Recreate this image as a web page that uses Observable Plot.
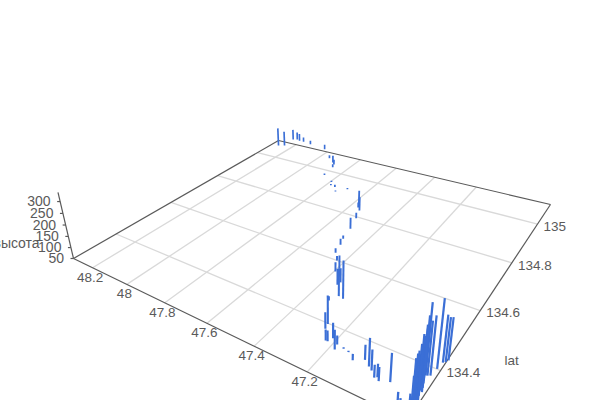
<!DOCTYPE html>
<html><head><meta charset="utf-8">
<script src="https://cdn.jsdelivr.net/npm/d3@7"></script>
<script src="https://cdn.jsdelivr.net/npm/@observablehq/plot@0.6"></script>
<style>body{margin:0;background:#fff}svg{display:block}</style></head><body><div id="c"></div>
<script>
// Values: horizontal position on each floor axis, and height
const lonValues=[48.278,48.249,48.256,48.236,48.214,48.187,48.135,48.031,47.947,47.904,47.887,47.875,47.863,47.794,47.778,47.753,47.727,47.691,47.569,
47.545,47.563,47.524,47.501,47.487,47.473,47.460,47.428,47.392,47.395,47.347,47.309,47.289,47.345,47.325,47.263,47.257,47.227,47.220,
47.213,47.182,47.187,47.161,47.141,47.113,47.083,47.060,47.046,47.026,47.019,47.009,46.980,46.929,46.923,46.902,46.908,46.896,46.891,
46.887,46.881,46.877,46.900,46.892,46.882,46.889,46.889,46.887,46.887,46.882,46.880,46.884,46.889,46.893,46.893,46.896,46.904,46.903,
46.895,46.888,46.885,46.890,46.900,46.896,46.900];
const latValues=[135.082,135.092,135.149,135.156,135.150,135.150,135.144,135.132,135.079,135.057,135.046,135.027,134.968,134.939,134.920,134.917,134.894,134.923,134.856,
134.833,134.846,134.793,134.739,134.689,134.662,134.626,134.600,134.574,134.560,134.520,134.487,134.484,134.531,134.463,134.398,134.383,134.355,134.355,
134.368,134.343,134.357,134.354,134.351,134.337,134.350,134.339,134.333,134.320,134.324,134.317,134.326,134.291,134.294,134.303,134.375,134.379,134.401,
134.421,134.425,134.432,134.350,134.325,134.303,134.301,134.300,134.293,134.293,134.295,134.304,134.302,134.300,134.298,134.325,134.337,134.362,134.376,
134.345,134.315,134.310,134.335,134.312,134.330,134.355];
const heightValues=[147,128,106,91,90,75,69,75,66,86,75,66,58,56,57,61,55,56,121,
113,74,76,101,65,77,70,69,107,90,117,162,203,109,67,161,115,92,92,
110,125,85,56,55,74,107,156,128,98,100,102,156,89,66,82,305,262,298,
223,213,207,262,263,261,229,201,177,143,249,246,207,190,156,225,242,277,245,
255,235,215,270,195,215,250];
const lonTicks=[48.2,48,47.8,47.6,47.4,47.2];
const latTicks=[134.4,134.6,134.8,135];
const heightTicks=[50,100,150,200,250,300];

// Extent of the 3D box
const uMax=48.32,uMin=46.88,vMin=134.266,vMax=135.117,zMin=50,zMax=338;
// Perspective camera
const a=198,b=317.2,c=73,d=21.7,e=-61.5,f=258,g=-0.3341,h=0.4036,q=-0.0571,vpx=329,vpy=1350;
function P(u,v,z=zMin){
  const s=(uMax-u)/(uMax-uMin),t=(v-vMin)/(vMax-vMin),w=(z-zMin)/(zMax-zMin);
  const D=g*s+h*t+1+q*w;
  return [(a*s+b*t+c+vpx*q*w)/D,(d*s+e*t+f+vpy*q*w)/D];
}
const bars=lonValues.map((u,i)=>[P(u,latValues[i]),P(u,latValues[i],heightValues[i])]);
const lnk=(arr,o)=>Plot.link(arr,{x1:r=>r[0][0],y1:r=>r[0][1],x2:r=>r[1][0],y2:r=>r[1][1],...o});
const grid=[...lonTicks.map(u=>[P(u,vMin),P(u,vMax)]),...latTicks.map(v=>[P(uMin,v),P(uMax,v)])];
const edges=[[P(uMax,vMin),P(uMin,vMin)],[P(uMin,vMin),P(uMin,vMax)],[P(uMin,vMax),P(uMax,vMax)],[P(uMax,vMax),P(uMax,vMin)],[P(uMax,vMin),P(uMax,vMin,zMax)]];
const ink="#5a5a5a",font="Liberation Sans";
const zAt=z=>P(uMax,vMin,z);
const chart=Plot.plot({width:600,height:400,margin:0,
  x:{domain:[0,600],range:[0,600],axis:null},y:{domain:[0,400],range:[0,400],axis:null},
  strokeWidth:{type:"identity"},
  marks:[
    lnk(grid,{stroke:"#d9d9d9",strokeWidth:1.3}),
    lnk(edges,{stroke:ink,strokeWidth:1.2}),
    Plot.link(heightTicks,{x1:z=>zAt(z)[0],y1:z=>zAt(z)[1],x2:z=>zAt(z)[0]-3,y2:z=>zAt(z)[1],stroke:ink,strokeWidth:1.2}),
    lnk(bars,{stroke:"#3b6fd6",strokeWidth:r=>1.3+r[0][1]/400}),
    Plot.text(lonTicks,{x:u=>P(u,vMin)[0],y:u=>P(u,vMin)[1],text:u=>String(u),dx:-2.5,dy:9.5,fontSize:13.5,fill:ink,fontFamily:font}),
    Plot.text(latTicks,{x:v=>P(uMin,v)[0],y:v=>P(uMin,v)[1],text:v=>String(v),dx:6,dy:2.5,textAnchor:"start",fontSize:13.5,fill:ink,fontFamily:font}),
    Plot.text(heightTicks,{x:z=>zAt(z)[0],y:z=>zAt(z)[1],text:z=>String(z),dx:-9.5,textAnchor:"end",fontSize:14,fill:ink,fontFamily:font}),
    Plot.text(["lat"],{x:()=>P(uMin,134.5)[0],y:()=>P(uMin,134.5)[1],dx:50,dy:22,fontSize:13.5,fill:ink,fontFamily:font}),
    Plot.text(["высота"],{x:()=>zAt(125)[0],y:()=>zAt(125)[1],dx:-30,dy:1,textAnchor:"end",fontSize:14,fill:ink,fontFamily:font})
  ]});
document.getElementById("c").append(chart);
</script></body></html>
